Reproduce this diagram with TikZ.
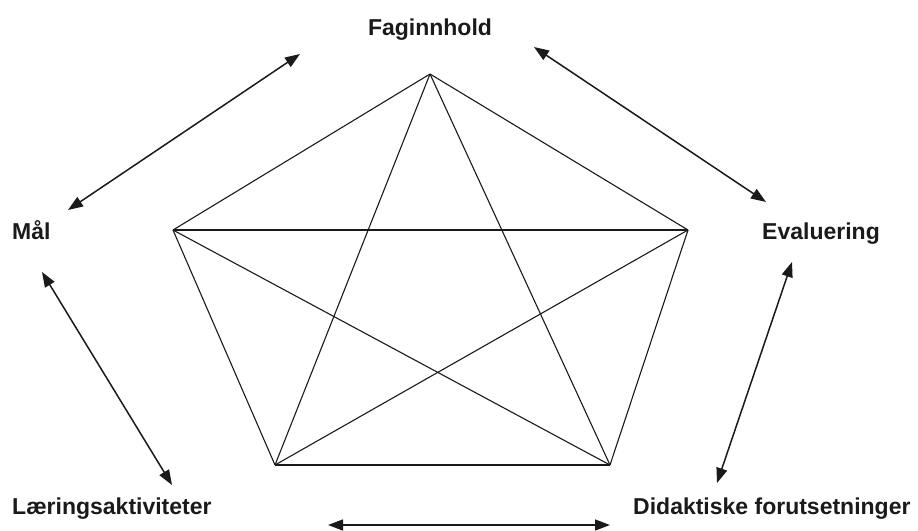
\documentclass[tikz,border=0pt]{standalone}
\usepackage{fontspec}
\setmainfont{Liberation Sans}
\usetikzlibrary{arrows.meta}
\definecolor{cInk}{HTML}{1A1A1A}
\tikzset{
  lbl/.style  ={font=\fontsize{23}{27}\selectfont\bfseries,text=cInk,
                inner sep=0pt,anchor=base west},
  edge/.style ={line width=1.1pt,cInk},
  rel/.style  ={{Triangle[length=15pt,width=11pt]}-{Triangle[length=15pt,width=11pt]},
                line width=1.5pt,cInk},
}
\begin{document}
\begin{tikzpicture}[x=1pt,y=-1pt]
\useasboundingbox (0,0) rectangle (918,530);
% corners of the pentagon
\coordinate (pT)  at (430,74);
\coordinate (pR)  at (688,230);
\coordinate (pBR) at (610,465);
\coordinate (pBL) at (275,465);
\coordinate (pL)  at (173,230);
\foreach \a/\b in {pT/pR,pR/pBR,pBR/pBL,pBL/pL,pL/pT,
                   pT/pBR,pT/pBL,pR/pBL,pR/pL,pBR/pL}
  \draw[edge] (\a) -- (\b);
% labels
\node[lbl,anchor=base] (fag)  at (430,35)  {Faginnhold};
\node[lbl] (maal) at (12,239)  {Mål};
\node[lbl] (eval) at (762,239) {Evaluering};
\node[lbl] (laer) at (12,514)  {Læringsaktiviteter};
\node[lbl] (did)  at (633,514) {Didaktiske forutsetninger};
% arrow ends
\coordinate (a1) at (300,54);  \coordinate (b1) at (68,210);
\coordinate (a2) at (534,47);  \coordinate (b2) at (766,202);
\coordinate (a3) at (792,262); \coordinate (b3) at (717,483);
\coordinate (a4) at (610,525); \coordinate (b4) at (328,525);
\coordinate (a5) at (42,272);  \coordinate (b5) at (172,485);
\foreach \i in {1,...,5}
  \draw[rel] (a\i) -- (b\i);
\end{tikzpicture}
\end{document}
